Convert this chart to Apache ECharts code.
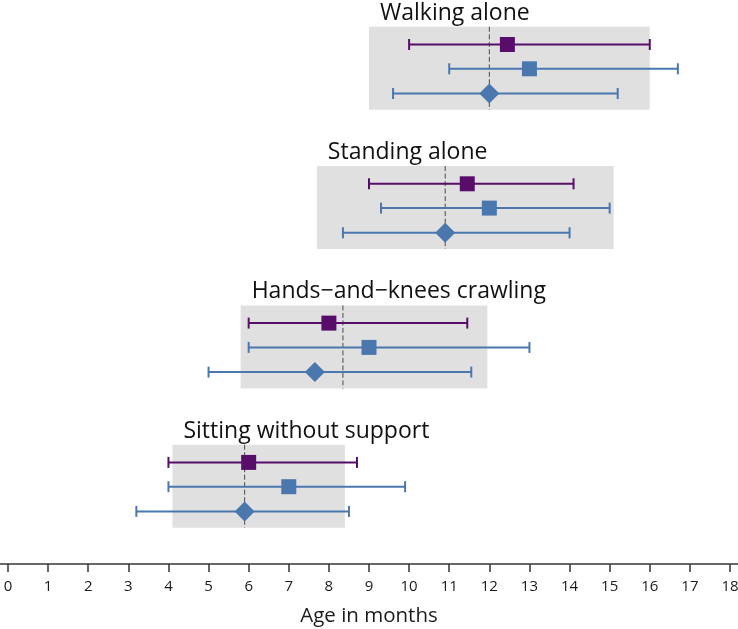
<!DOCTYPE html>
<html>
<head>
<meta charset="utf-8">
<script src="https://cdn.jsdelivr.net/npm/echarts@6/dist/echarts.min.js"></script>
<style>html,body{margin:0;padding:0;background:#fff}#c{width:738px;height:629px}</style>
</head>
<body>
<div id="c"></div>
<script>
// ---- data (bottom group first) ----
var milestones = ['Sitting without support', 'Hands\u2212and\u2212knees crawling', 'Standing alone', 'Walking alone'];
var boxLow  = [4.1, 5.8, 7.7, 9.0];
var boxHigh = [8.4, 11.95, 15.1, 16.0];
var refLine = [5.9, 8.35, 10.9, 12.0];

var purpleMean = [6.0, 8.0, 11.45, 12.45];
var purpleLow  = [4.0, 6.0, 9.0, 10.0];
var purpleHigh = [8.7, 11.45, 14.1, 16.0];

var blueMean = [7.0, 9.0, 12.0, 13.0];
var blueLow  = [4.0, 6.0, 9.3, 11.0];
var blueHigh = [9.9, 13.0, 15.0, 16.7];

var diamondMean = [5.9, 7.65, 10.9, 12.0];
var diamondLow  = [3.2, 5.0, 8.35, 9.6];
var diamondHigh = [8.5, 11.55, 14.0, 15.2];

var xTicks = [0, 18, 1]; // min, max, interval
var xTitle = 'Age in months';

// ---- layout (hidden y scale measured in px above the axis) ----
var FIRST_CENTER = 77.3, GROUP_GAP = 139.3;
var ROW_OFF = [24.3, 0, -24.7];
var BOX_TOP = 42, BOX_BOT = -41;
function center(i){ return FIRST_CENTER + i * GROUP_GAP; }

var PURPLE = '#570d69', BLUE = '#4a77ae';
var FONT = '"Open Sans", sans-serif';

var boxData = milestones.map(function(m, i){ return [boxLow[i], boxHigh[i], i, refLine[i]]; });

function barData(lo, hi, row){
  return lo.map(function(v, i){ return [lo[i], hi[i], center(i) + ROW_OFF[row]]; });
}
function ptData(mean, row){
  return mean.map(function(v, i){ return [v, center(i) + ROW_OFF[row]]; });
}

function errorBarSeries(lo, hi, row, color){
  return {
    type: 'custom', clip: false, z: 3,
    data: barData(lo, hi, row),
    encode: {x: [0, 1], y: 2},
    renderItem: function(params, api){
      var y = api.value(2);
      var a = api.coord([api.value(0), y]);
      var b = api.coord([api.value(1), y]);
      var cap = 5.5;
      var st = {stroke: color, lineWidth: 2};
      return {type: 'group', children: [
        {type: 'line', shape: {x1: a[0], y1: a[1], x2: b[0], y2: b[1]}, style: st},
        {type: 'line', shape: {x1: a[0], y1: a[1]-cap, x2: a[0], y2: a[1]+cap}, style: st},
        {type: 'line', shape: {x1: b[0], y1: b[1]-cap, x2: b[0], y2: b[1]+cap}, style: st}
      ]};
    }
  };
}

var chart = echarts.init(document.getElementById('c'));
chart.setOption({
  animation: false,
  grid: {left: 8, right: 8, top: 0, bottom: 65, containLabel: false, outerBoundsMode: 'none'},
  xAxis: {
    type: 'value', min: xTicks[0], max: xTicks[1], interval: xTicks[2],
    splitLine: {show: false},
    axisLine: {show: false},
    axisTick: {show: true, length: 8, lineStyle: {color: '#333', width: 1.5}},
    axisLabel: {fontSize: 15, color: '#1a1a1a', margin: 15, fontFamily: FONT},
    name: xTitle, nameLocation: 'middle', nameGap: 42,
    nameTextStyle: {fontSize: 20.5, color: '#1a1a1a', fontFamily: FONT}
  },
  yAxis: {type: 'value', min: 0, max: 564, show: false},
  graphic: [{type: 'line', shape: {x1: 0, y1: 564, x2: 738, y2: 564}, style: {stroke: '#333', lineWidth: 1.5}, z: 10}],
  series: [
    {
      type: 'custom', clip: false, z: 1,
      data: boxData,
      encode: {x: [0, 1], y: 2},
      renderItem: function(params, api){
        var i = api.value(2);
        var c = center(i);
        var p1 = api.coord([api.value(0), c + BOX_TOP]);
        var p2 = api.coord([api.value(1), c + BOX_BOT]);
        var r1 = api.coord([api.value(3), c + BOX_TOP]);
        var r2 = api.coord([api.value(3), c + BOX_BOT]);
        return {type: 'group', children: [
          {type: 'rect', shape: {x: p1[0], y: p1[1], width: p2[0]-p1[0], height: p2[1]-p1[1]}, style: {fill: '#e0e0e0'}},
          {type: 'line', shape: {x1: r1[0], y1: r1[1], x2: r2[0], y2: r2[1]}, style: {stroke: '#4a4a4a', lineWidth: 1, lineDash: [5, 2.5]}},
          {type: 'text', x: p1[0] + 11, y: p1[1] - 13.5, style: {text: milestones[i], font: '23px ' + FONT, fill: '#111', verticalAlign: 'middle', align: 'left'}}
        ]};
      }
    },
    errorBarSeries(purpleLow, purpleHigh, 0, PURPLE),
    errorBarSeries(blueLow, blueHigh, 1, BLUE),
    errorBarSeries(diamondLow, diamondHigh, 2, BLUE),
    {type: 'scatter', z: 5, symbol: 'rect', symbolSize: 15, itemStyle: {color: PURPLE, opacity: 1}, data: ptData(purpleMean, 0)},
    {type: 'scatter', z: 5, symbol: 'rect', symbolSize: 15, itemStyle: {color: BLUE, opacity: 1}, data: ptData(blueMean, 1)},
    {type: 'scatter', z: 5, symbol: 'diamond', symbolSize: 20, itemStyle: {color: BLUE, opacity: 1}, data: ptData(diamondMean, 2)}
  ]
});
</script>
</body>
</html>
